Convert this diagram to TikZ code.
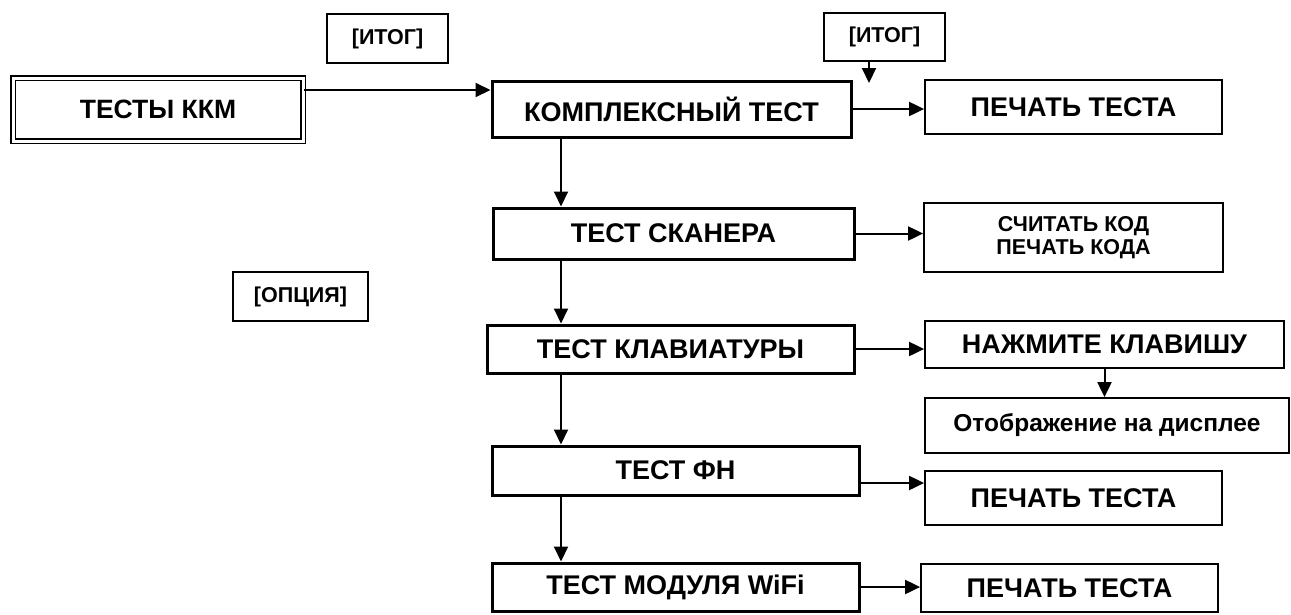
\documentclass[tikz,border=0pt]{standalone}
\usepackage{fontspec}
\setmainfont{Liberation Sans}
\usetikzlibrary{arrows.meta}
\tikzstyle{mainbox}=[draw,line width=3pt,inner sep=0pt,font=\fontsize{27}{31}\selectfont\bfseries]
\tikzstyle{outbox}=[draw,line width=1.8pt,inner sep=0pt,font=\fontsize{27}{31}\selectfont\bfseries]
\tikzstyle{tagbox}=[draw,line width=1.8pt,inner sep=0pt,font=\fontsize{21.5}{22.5}\selectfont\bfseries,align=center]
\tikzstyle{arr}=[line width=2pt,-{Triangle[length=15pt,width=14pt]}]

\begin{document}
\begin{tikzpicture}[x=1pt,y=-1pt]
      \useasboundingbox (0,0) rectangle (1291,614);
      \node[draw,double,double distance=3pt,line width=1.6pt,inner sep=0pt,
            minimum width=290pt,minimum height=63pt,font=\fontsize{26.5}{31}\selectfont\bfseries] (tkkm) at (158,109.5) {ТЕСТЫ ККМ};
      \node[tagbox,minimum width=121pt,minimum height=49pt] (itog1) at (387.5,38.5) {[ИТОГ]};
      \node[tagbox,minimum width=121pt,minimum height=48pt] (itog2) at (884.5,37) {[ИТОГ]};
      \node[tagbox,minimum width=135pt,minimum height=49pt] (opt) at (300.5,296.5) {[ОПЦИЯ]};
      % left column
      \node[mainbox,minimum width=359pt,minimum height=56pt] (kt) at (671.5,109) {КОМПЛЕКСНЫЙ ТЕСТ};
      \node[mainbox,minimum width=361pt,minimum height=51pt] (ts) at (673.5,233.5) {ТЕСТ СКАНЕРА};
      \node[mainbox,minimum width=367pt,minimum height=48pt] (tk) at (670.5,349) {ТЕСТ КЛАВИАТУРЫ};
      \node[mainbox,minimum width=367pt,minimum height=49pt] (fn) at (675.5,470.5) {ТЕСТ ФН};
      \node[mainbox,minimum width=367pt,minimum height=48pt] (wifi) at (675.5,587) {ТЕСТ МОДУЛЯ WiFi};
      % right column
      \node[outbox,minimum width=297pt,minimum height=54pt] (pt1) at (1073.5,107) {ПЕЧАТЬ ТЕСТА};
      \node[tagbox,minimum width=299pt,minimum height=69pt] (sk) at (1073.5,237.5) {СЧИТАТЬ КОД\\ПЕЧАТЬ КОДА};
      \node[outbox,minimum width=359pt,minimum height=47pt] (nk) at (1104.5,344.5) {НАЖМИТЕ КЛАВИШУ};
      \node[outbox,minimum width=364pt,minimum height=55pt,font=\fontsize{24.5}{29}\selectfont\bfseries] (disp) at (1107,425.5) {Отображение на дисплее};
      \node[outbox,minimum width=297pt,minimum height=54pt] (pt2) at (1073.5,498) {ПЕЧАТЬ ТЕСТА};
      \node[outbox,minimum width=297pt,minimum height=48pt] (pt3) at (1069.5,588) {ПЕЧАТЬ ТЕСТА};
      \coordinate (col) at (561,0);
      \coordinate (itogend) at (869,83);
      % connectors
      \draw[arr] ([yshift=19.5pt]tkkm.east) -- ([yshift=19.5pt]tkkm.east -| kt.west);
      \draw[arr] (itog2.south -| itogend) -- (itogend);
      \draw[arr] (kt.east) -- (kt.east -| pt1.west);
      \draw[arr] (kt.south -| col) -- (ts.north -| col);
      \draw[arr] (ts.east) -- (ts.east -| sk.west);
      \draw[arr] (ts.south -| col) -- (tk.north -| col);
      \draw[arr] (tk.east) -- (tk.east -| nk.west);
      \draw[arr] (nk.south) -- (nk.south |- disp.north);
      \draw[arr] (tk.south -| col) -- (fn.north -| col);
      \draw[arr] ([yshift=-12.5pt]fn.east) -- ([yshift=-12.5pt]fn.east -| pt2.west);
      \draw[arr] (fn.south -| col) -- (wifi.north -| col);
      \draw[arr] (wifi.east) -- (wifi.east -| pt3.west);
\end{tikzpicture}
\end{document}
